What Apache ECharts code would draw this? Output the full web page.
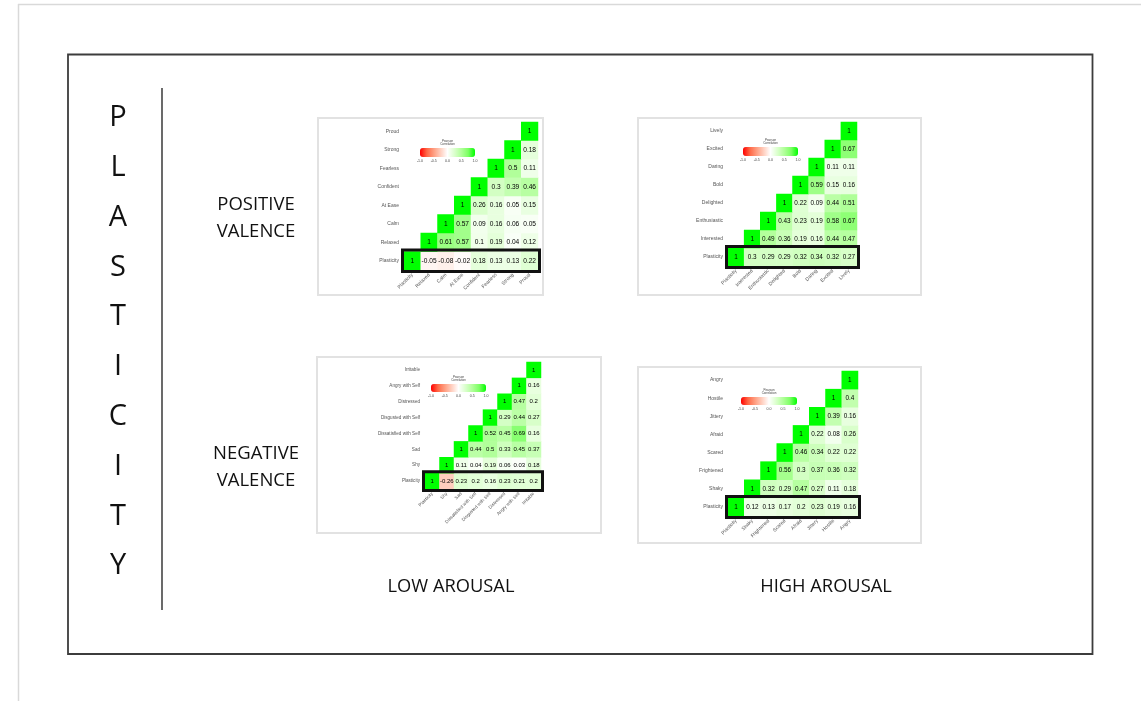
<!DOCTYPE html>
<html>
<head>
<meta charset="utf-8">
<style>
  html, body { margin: 0; padding: 0; background: #ffffff; }
  #chart { width: 1141px; height: 701px; }
</style>
<script src="https://cdn.jsdelivr.net/npm/echarts@6/dist/echarts.min.js"></script>
</head>
<body>
<div id="chart"></div>
<script>
// Variables of each correlation matrix (x: left to right, y: bottom to top)
const lowPosVars  = ['Plasticity', 'Relaxed', 'Calm', 'At Ease', 'Confident', 'Fearless', 'Strong', 'Proud'];
const highPosVars = ['Plasticity', 'Interested', 'Enthusiastic', 'Delighted', 'Bold', 'Daring', 'Excited', 'Lively'];
const lowNegVars  = ['Plasticity', 'Shy', 'Sad', 'Dissatisfied with Self', 'Disgusted with Self', 'Distressed', 'Angry with Self', 'Irritable'];
const highNegVars = ['Plasticity', 'Shaky', 'Frightened', 'Scared', 'Afraid', 'Jittery', 'Hostile', 'Angry'];

// Upper triangle rows: row i lists correlations of variable i with variables i..n-1
const lowPosCorr = [
  [1, -0.05, -0.08, -0.02, 0.18, 0.13, 0.13, 0.22],
  [1, 0.61, 0.57, 0.1, 0.19, 0.04, 0.12],
  [1, 0.57, 0.09, 0.16, 0.06, 0.05],
  [1, 0.26, 0.16, 0.05, 0.15],
  [1, 0.3, 0.39, 0.46],
  [1, 0.5, 0.11],
  [1, 0.18],
  [1]
];
const highPosCorr = [
  [1, 0.3, 0.29, 0.29, 0.32, 0.34, 0.32, 0.27],
  [1, 0.49, 0.36, 0.19, 0.16, 0.44, 0.47],
  [1, 0.43, 0.23, 0.19, 0.58, 0.67],
  [1, 0.22, 0.09, 0.44, 0.51],
  [1, 0.59, 0.15, 0.16],
  [1, 0.11, 0.11],
  [1, 0.67],
  [1]
];
const lowNegCorr = [
  [1, -0.26, 0.23, 0.2, 0.16, 0.23, 0.21, 0.2],
  [1, 0.11, 0.04, 0.19, 0.06, 0.03, 0.18],
  [1, 0.44, 0.5, 0.33, 0.45, 0.37],
  [1, 0.52, 0.45, 0.69, 0.16],
  [1, 0.29, 0.44, 0.27],
  [1, 0.47, 0.2],
  [1, 0.16],
  [1]
];
const highNegCorr = [
  [1, 0.12, 0.13, 0.17, 0.2, 0.23, 0.19, 0.16],
  [1, 0.32, 0.29, 0.47, 0.27, 0.11, 0.18],
  [1, 0.56, 0.3, 0.37, 0.36, 0.32],
  [1, 0.46, 0.34, 0.22, 0.22],
  [1, 0.22, 0.08, 0.26],
  [1, 0.39, 0.16],
  [1, 0.4],
  [1]
];

const legendTicks = ['-1.0', '-0.5', '0.0', '0.5', '1.0'];
const sideLetters = 'PLASTICITY'.split('');
const rowTitles = [['POSITIVE', 'VALENCE'], ['NEGATIVE', 'VALENCE']];
const colTitles = ['LOW AROUSAL', 'HIGH AROUSAL'];

// Layout of the four panels
const panels = [
  { vars: lowPosVars,  corr: lowPosCorr,  box: [318, 118, 225, 177], grid: [404, 122, 134, 148], bar: [420, 148, 55, 9], cellFont: 6.6, axisFont: 5 },
  { vars: highPosVars, corr: highPosCorr, box: [638, 118, 283, 177], grid: [728, 122, 129, 144], bar: [743, 147, 55, 9], cellFont: 6.4, axisFont: 5 },
  { vars: lowNegVars,  corr: lowNegCorr,  box: [317, 357, 284, 176], grid: [425, 362, 116, 127], bar: [431, 384, 55, 8], cellFont: 6.0, axisFont: 4.6 },
  { vars: highNegVars, corr: highNegCorr, box: [638, 367, 283, 176], grid: [728, 371, 130, 145], bar: [741, 397, 56, 8], cellFont: 6.4, axisFont: 5 }
];

// Red - white - green scale, sampled in Lab space
const scaleColors = ['#ff0000', '#ff6846', '#ff9e81', '#ffcfbf', '#ffffff', '#dbffcd', '#b1ff9a', '#7dff64', '#00ff00'];

const font = "'Open Sans', 'Liberation Sans', sans-serif";
const plotFont = "'Liberation Sans', Arial, sans-serif";
const grids = [], xAxes = [], yAxes = [], series = [], visualMaps = [], graphics = [];

// Page and figure frame
graphics.push({ type: 'line', shape: { x1: 18, y1: 4.5, x2: 1141, y2: 4.5 }, style: { stroke: '#d9d9d9', lineWidth: 1.5 }, z: -20 });
graphics.push({ type: 'line', shape: { x1: 18.5, y1: 4, x2: 18.5, y2: 701 }, style: { stroke: '#d9d9d9', lineWidth: 1.5 }, z: -20 });
graphics.push({ type: 'rect', shape: { x: 68, y: 54.5, width: 1024.5, height: 599.5 }, style: { fill: '#ffffff', stroke: '#3c3c3c', lineWidth: 1.8 }, z: -20 });
graphics.push({ type: 'line', shape: { x1: 162, y1: 88, x2: 162, y2: 610 }, style: { stroke: '#2b2b2b', lineWidth: 1.4 }, z: -10 });

sideLetters.forEach((ch, i) => {
  graphics.push({ type: 'text', x: 118, y: 118 + i * 49.8, z: 5,
    style: { text: ch, font: '400 29px ' + font, fill: '#111', textAlign: 'center', textVerticalAlign: 'middle' } });
});
rowTitles.forEach((lines, r) => {
  const y0 = r === 0 ? 205 : 454;
  lines.forEach((t, k) => {
    graphics.push({ type: 'text', x: 256, y: y0 + k * 27, z: 5,
      style: { text: t, font: '400 18.5px ' + font, fill: '#111', textAlign: 'center', textVerticalAlign: 'middle' } });
  });
});
colTitles.forEach((t, c) => {
  graphics.push({ type: 'text', x: c === 0 ? 451 : 826, y: 587, z: 5,
    style: { text: t, font: '400 18.3px ' + font, fill: '#111', textAlign: 'center', textVerticalAlign: 'middle' } });
});

panels.forEach((p, idx) => {
  const n = p.vars.length;
  const [bx, by, bw, bh] = p.box;
  graphics.push({ type: 'rect', shape: { x: bx, y: by, width: bw, height: bh },
    style: { fill: '#ffffff', stroke: '#e2e2e2', lineWidth: 2 }, z: -5 });

  grids.push({ left: p.grid[0], top: p.grid[1], width: p.grid[2], height: p.grid[3], show: false });
  xAxes.push({ type: 'category', gridIndex: idx, data: p.vars, position: 'bottom',
    axisLine: { show: false }, axisTick: { show: false }, splitLine: { show: false },
    axisLabel: { rotate: 45, margin: 4, fontSize: p.axisFont, color: '#555', fontFamily: plotFont, interval: 0 } });
  yAxes.push({ type: 'category', gridIndex: idx, data: p.vars,
    axisLine: { show: false }, axisTick: { show: false }, splitLine: { show: false },
    axisLabel: { margin: 5, fontSize: p.axisFont, color: '#555', fontFamily: plotFont, interval: 0 } });

  const data = [];
  p.corr.forEach((row, i) => row.forEach((v, k) => data.push([i + k, i, v])));

  series.push({
    type: 'heatmap', xAxisIndex: idx, yAxisIndex: idx, data: data,
    label: { show: true, fontSize: p.cellFont, color: '#000', fontFamily: plotFont,
      formatter: d => String(d.value[2]) },
    itemStyle: { borderWidth: 0 },
    emphasis: { disabled: true }
  });
  const heatIndex = series.length - 1;

  // Outline around the Plasticity row
  series.push({
    type: 'custom', xAxisIndex: idx, yAxisIndex: idx, silent: true, z: 5,
    data: [[0, 0, n - 1]],
    renderItem: (params, api) => {
      const a = api.coord([api.value(0), api.value(1)]);
      const b = api.coord([api.value(2), api.value(1)]);
      const sz = api.size([1, 1]);
      const pad = 1.5;
      return { type: 'rect',
        shape: { x: a[0] - sz[0] / 2 - pad, y: a[1] - sz[1] / 2 - pad,
                 width: b[0] - a[0] + sz[0] + 2 * pad, height: sz[1] + 2 * pad },
        style: { fill: 'none', stroke: '#111', lineWidth: 3 } };
    }
  });

  const [lx, ly, lw, lh] = p.bar;
  visualMaps.push({
    type: 'continuous', seriesIndex: heatIndex, min: -1, max: 1,
    orient: 'horizontal', left: lx, top: ly, itemWidth: lh, itemHeight: lw,
    calculable: false, text: null, showLabel: false, padding: 0, hoverLink: false,
    inRange: { color: scaleColors }
  });
  graphics.push({ type: 'text', x: lx + lw / 2, y: ly - 5, z: 5,
    style: { text: 'Pearson\nCorrelation', font: '3px ' + plotFont, fill: '#444', textAlign: 'center', textVerticalAlign: 'middle', lineHeight: 3.2 } });
  legendTicks.forEach((t, k) => {
    graphics.push({ type: 'text', x: lx + k * lw / (legendTicks.length - 1), y: ly + lh + 4, z: 5,
      style: { text: t, font: '3.6px ' + plotFont, fill: '#444', textAlign: 'center', textVerticalAlign: 'middle' } });
  });
});

const chart = echarts.init(document.getElementById('chart'), null, { renderer: 'canvas' });
chart.setOption({
  backgroundColor: '#ffffff',
  animation: false,
  grid: grids,
  xAxis: xAxes,
  yAxis: yAxes,
  visualMap: visualMaps,
  series: series,
  graphic: graphics
});
</script>
</body>
</html>
